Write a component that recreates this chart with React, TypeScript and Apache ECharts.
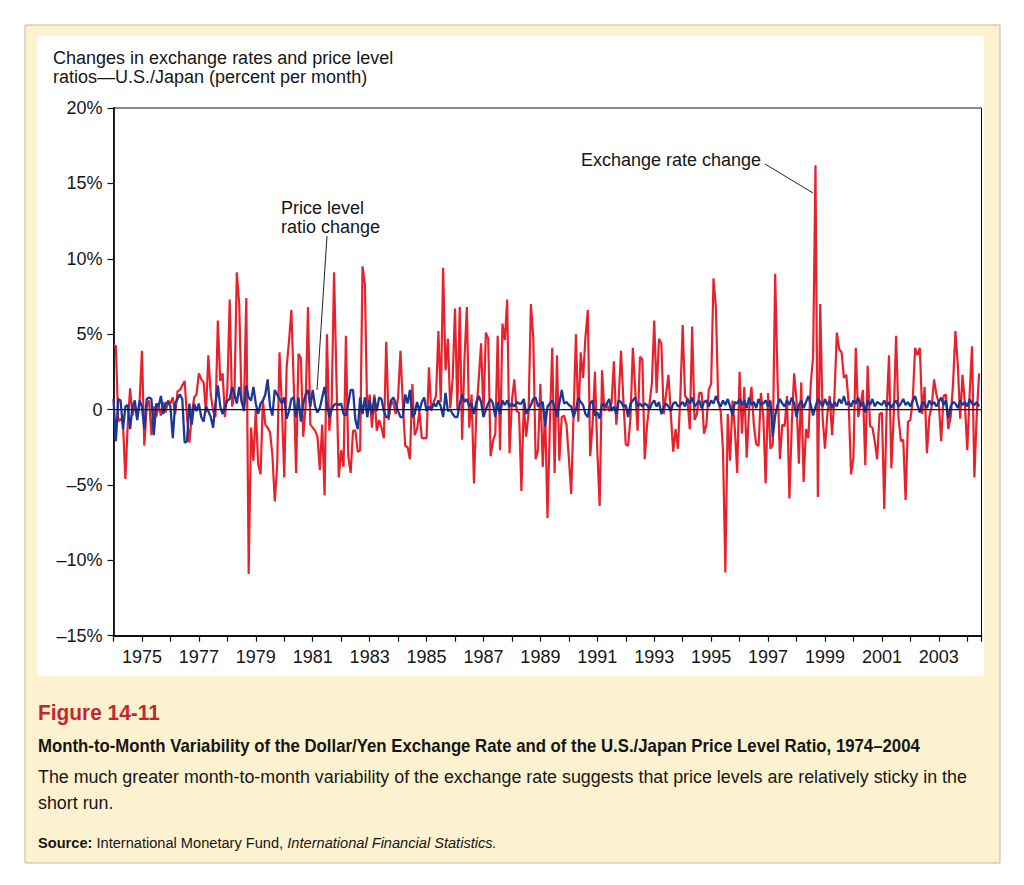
import React, { useEffect, useRef } from "react";
import * as echarts from "echarts";

// Monthly data, January 1974 – June 2004 (percent per month)
const START_YEAR = 1974;

const exchangeRateChange: number[] = [
  // 1974
  4.3, 4.2, -0.8, -0.6, -0.9, -4.6, -1.0, 1.4, -0.4, 0.3, -0.6, 0.5,
  // 1975
  3.9, -2.4, 0.2, 0.6, -1.7, 0.2, -0.5, 0.3, -0.4, 0.5, -0.2, 0.6,
  // 1976
  0.4, 0.8, -0.3, 1.2, 1.3, 1.6, 1.9, -0.5, -2.2, -0.4, 0.8, 1.0,
  // 1977
  2.4, 2.0, 1.8, -0.2, 3.6, 1.0, -0.1, -0.5, 5.9, 1.9, 2.4, -0.5,
  // 1978
  1.3, 7.3, 0.2, 1.0, 9.1, 7.0, 0.5, 0.2, 7.4, -10.9, -1.2, -3.4,
  // 1979
  0.0, -3.6, -4.3, 0.6, -1.0, -1.2, -1.5, -3.0, -6.1, -3.8, 3.8, 0.2,
  // 1980
  -4.5, 2.8, 4.5, 6.6, 1.7, -4.2, 3.7, 3.4, -1.8, 0.2, 6.8, -1.0,
  // 1981
  -1.2, -1.4, -1.8, -4.0, -1.0, -5.7, 5.0, -1.4, 0.4, 9.1, 2.1, -4.5,
  // 1982
  -2.7, -3.8, 4.9, -3.1, -4.2, -1.4, -1.4, -2.8, -2.7, 9.5, 8.3, -0.5,
  // 1983
  1.0, -1.2, 1.0, -1.4, -0.7, -1.2, -1.9, 4.5, -0.7, 0.6, 0.4, -0.3,
  // 1984
  0.8, 3.9, 0.4, -2.4, -2.5, -3.3, 1.7, -1.7, -1.3, -0.1, -1.9, -1.9,
  // 1985
  -1.9, 2.8, -0.1, 0.5, 0.9, 5.2, 0.5, 9.4, 2.6, 4.7, 0.1, 2.0,
  // 1986
  6.7, 0.0, 6.8, -2.0, 3.4, 6.8, -1.2, 1.0, -4.9, -0.2, 2.0, 4.4,
  // 1987
  -0.4, 5.1, 4.7, -3.1, -2.1, -1.6, 4.9, -2.7, 5.7, 4.6, 7.3, -2.9,
  // 1988
  0.6, 2.0, -0.1, -0.2, -5.4, 0.4, -1.8, -0.3, 7.0, 4.8, -3.3, -2.7,
  // 1989
  1.7, -3.8, -0.1, -7.2, -1.0, 4.1, -4.2, 3.6, -3.4, -0.5, -0.4, -1.0,
  // 1990
  -3.2, -5.6, -0.3, 5.0, -0.8, 3.8, 2.1, 4.8, 6.6, -3.1, -1.0, 2.5,
  // 1991
  -2.7, -6.4, 2.6, -0.1, 0.4, -0.1, 0.4, 3.2, -1.0, 0.7, 3.9, 0.6,
  // 1992
  -2.3, -2.4, -0.5, 4.1, 1.3, -1.4, 3.5, 3.3, -3.3, -1.0, 0.4, 1.7,
  // 1993
  5.9, 1.1, 4.7, 4.4, -0.3, 1.0, 2.3, -0.3, -2.8, -1.3, -2.6, 0.8,
  // 1994
  5.6, 0.9, 0.7, -1.3, 5.5, -0.7, -0.3, 1.1, 1.1, -1.6, -1.0, 1.3,
  // 1995
  1.7, 8.7, 6.8, 0.5, -0.1, -2.7, -10.8, -0.3, -3.4, 0.6, -1.3, -4.2,
  // 1996
  2.5, -1.6, 1.5, -3.2, 0.0, 1.5, -1.0, -2.3, -2.4, 1.1, -0.5, -4.9,
  // 1997
  1.1, -2.6, -2.3, 9.0, 2.0, -3.3, -1.0, -1.1, 0.9, -5.9, -1.0, 2.4,
  // 1998
  0.6, -3.6, 1.8, -4.8, -1.3, -1.9, 1.7, 3.5, 16.2, -5.8, 7.0, -0.5,
  // 1999
  -2.6, -0.3, 0.9, -1.7, 0.9, 5.1, 4.0, 3.8, 2.1, 2.3, 0.4, -4.3,
  // 2000
  -3.2, 4.1, -0.5, 0.3, 1.3, -3.7, 2.9, -1.1, -1.2, -2.1, -3.3, -0.3,
  // 2001
  -0.2, -6.6, -0.1, 3.6, -3.9, -0.3, 4.9, -0.5, -2.1, -2.0, -6.0, -0.8,
  // 2002
  -0.7, 0.6, 4.1, 3.6, 4.1, -0.3, 1.5, -2.9, -0.5, 0.2, 2.0, 1.0,
  // 2003
  0.4, -2.1, 0.9, 1.0, -1.3, -0.5, 1.7, 5.2, 3.0, -0.6, 2.3, 0.4,
  // 2004
  -2.7, 1.0, 4.2, -4.5, -0.3, 2.4,
];

const priceLevelRatioChange: number[] = [
  // 1974
  0.7, -2.1, 0.7, 0.6, -1.3, 0.2, 0.3, -1.3, 0.2, 0.6, -0.7, 0.6,
  // 1975
  0.2, -1.3, 0.7, 0.8, 0.7, -1.7, 0.4, 0.2, 0.9, -0.3, 0.4, 0.5,
  // 1976
  0.2, -1.9, 0.4, 0.7, 1.0, 0.7, -2.2, -2.1, 0.4, -1.0, 0.4, -0.1,
  // 1977
  0.4, -0.5, -0.8, 0.2, -0.1, -0.5, -1.2, 0.4, 1.6, 0.2, -0.3, 0.2,
  // 1978
  0.6, 0.7, 1.5, 1.0, 0.4, 1.5, 0.6, -0.1, 1.6, 0.8, 0.6, 1.5,
  // 1979
  0.4, -0.3, 0.4, 0.6, 1.0, 2.0, 0.2, -0.4, 1.3, 1.0, 0.7, 0.4,
  // 1980
  0.8, -0.6, -0.1, 0.7, 0.8, -0.5, 0.8, -0.8, 0.4, 1.0, 1.3, 0.2,
  // 1981
  1.3, 0.2, -0.2, 0.1, 0.8, 1.5, 0.4, -0.5, 0.0, 0.3, 0.4, 0.3,
  // 1982
  0.4, -0.3, -0.4, 0.4, 1.3, 1.3, -0.7, -1.3, 0.8, -0.3, 0.8, -0.5,
  // 1983
  0.6, -0.3, 0.8, -0.1, 0.8, 0.7, -0.1, -0.5, -0.5, 0.6, 0.8, 0.4,
  // 1984
  -0.1, -0.5, -0.5, 1.0, 0.4, 1.3, -0.5, -0.3, 0.5, -0.1, 0.5, 0.8,
  // 1985
  -0.1, 0.2, 0.0, 0.4, 0.2, 0.6, 0.2, -0.5, 1.1, -0.1, 0.0, -0.3,
  // 1986
  -0.5, -0.5, 0.4, 1.0, 0.5, 0.7, 0.2, 0.4, -0.3, 0.5, 0.9, 0.5,
  // 1987
  -0.5, 0.0, 0.4, 0.7, 0.4, -0.5, 0.5, -0.3, 0.6, 0.3, 0.6, 0.2,
  // 1988
  0.4, 0.2, 0.5, 0.4, 0.4, 0.7, -0.3, 0.0, 0.3, 0.7, 0.8, 0.2,
  // 1989
  0.4, 0.5, -1.1, 0.2, 0.4, 0.6, 0.2, -0.5, 0.4, 1.3, 0.4, 0.5,
  // 1990
  0.3, 0.2, -0.5, 0.0, 0.8, 0.5, 0.3, -0.3, -0.5, 0.4, 0.6, -0.4,
  // 1991
  -0.2, -0.6, 0.4, 0.2, 0.4, 0.7, -0.1, 0.2, -0.3, 0.6, 0.5, 0.2,
  // 1992
  0.3, -0.5, 0.4, 0.6, 0.8, 0.2, 0.4, 0.2, 0.4, 0.3, 0.0, 0.4,
  // 1993
  0.6, 0.2, 0.5, -0.3, 0.2, 0.4, 0.2, -0.1, 0.4, 0.5, 0.2, 0.3,
  // 1994
  0.5, 0.2, 0.7, 0.4, 0.8, 0.2, 0.4, 0.6, 0.1, 0.5, 0.6, 0.2,
  // 1995
  0.6, 0.4, 0.9, 0.5, 0.2, 0.6, 0.3, 0.7, 0.2, -0.4, 0.5, 0.4,
  // 1996
  0.7, 0.3, 0.6, 0.1, 0.8, 0.3, 0.5, 0.1, 0.7, 0.3, 0.4, 0.6,
  // 1997
  0.2, 0.6, -1.8, -0.4, 0.3, 0.7, 0.4, 0.2, 0.6, 0.3, 0.8, 0.4,
  // 1998
  -0.5, 0.3, 0.6, 0.1, 0.5, 0.9, 0.3, -0.4, 0.2, 0.7, 0.5, 0.2,
  // 1999
  0.7, 0.3, 0.6, 0.1, 0.5, 0.2, 0.7, 0.4, 0.9, 0.3, 0.5, 0.2,
  // 2000
  0.6, 0.4, 0.8, 0.2, 0.5, -0.2, 0.6, 0.3, 0.7, 0.2, 0.5, 0.4,
  // 2001
  0.3, 0.6, 0.2, 0.5, 0.1, 0.4, 0.6, 0.2, 0.4, 0.7, 0.3, 0.5,
  // 2002
  0.2, 0.6, 0.9, 0.3, -0.2, 0.5, 0.4, 0.1, 0.6, 0.3, 0.5, 0.2,
  // 2003
  0.5, 0.8, 0.3, 0.6, -0.6, 0.2, 0.5, 0.4, 0.1, 0.6, 0.3, 0.5,
  // 2004
  0.2, 0.7, 0.4, 0.3, 0.5, 0.2,
];

const X_MIN = 1974;
const X_MAX = 2004.5;
const Y_MIN = -15;
const Y_MAX = 20;
const Y_STEP = 5;

const axisTitleLines = [
  "Changes in exchange rates and price level",
  "ratios\u2014U.S./Japan (percent per month)",
];
const exchangeLabel = "Exchange rate change";
const priceLabelLines = ["Price level", "ratio change"];

const figureNumber = "Figure 14-11";
const figureTitle =
  "Month-to-Month Variability of the Dollar/Yen Exchange Rate and of the U.S./Japan Price Level Ratio, 1974\u20132004";
const figureTextLine1 =
  "The much greater month-to-month variability of the exchange rate suggests that price levels are relatively sticky in the";
const figureTextLine2 = "short run.";
const sourceBold = "Source:";
const sourcePlain = " International Monetary Fund, ";
const sourceItalic = "International Financial Statistics.";

const toPoints = (vals: number[]) =>
  vals.map((v, i) => [START_YEAR + i / 12, v]);

let measureCtx: CanvasRenderingContext2D | null = null;
function measure(font: string, text: string): number {
  if (!measureCtx) {
    measureCtx = document.createElement("canvas").getContext("2d");
  }
  if (!measureCtx) return text.length * 8;
  measureCtx.font = font;
  return measureCtx.measureText(text).width;
}
function hasFont(name: string): boolean {
  const probe = "abcdefghijklmnopqrstuvwxyzABCDEFGHIJ 0123456789";
  return (
    measure(`20px "${name}", monospace`, probe) !== measure("20px monospace", probe)
  );
}

export default function App() {
  const ref = useRef<HTMLDivElement>(null);

  useEffect(() => {
    if (!ref.current) return;
    const chart = echarts.init(ref.current, undefined, { renderer: "svg" });

    const plotFont = "'Liberation Sans', Arial, Helvetica, sans-serif";
    const condName = hasFont("Liberation Sans Narrow")
      ? "Liberation Sans Narrow"
      : "Liberation Sans";
    const condFont = `'${condName}', 'Liberation Sans', sans-serif`;

    const fitScale = (font: string, text: string, target: number) =>
      target / measure(font, text);

    const figSize = 22;
    const titleSize = 18.5;
    const bodySize = 18.5;
    const srcSize = 15;

    const figScale = fitScale(`bold ${figSize}px ${condFont}`, figureNumber, 122);
    const titleScale = fitScale(`bold ${titleSize}px ${condFont}`, figureTitle, 882);
    const bodyScale = fitScale(`${bodySize}px ${condFont}`, figureTextLine1, 930);
    const srcW =
      measure(`bold ${srcSize}px ${condFont}`, sourceBold) +
      measure(`${srcSize}px ${condFont}`, sourcePlain) +
      measure(`italic ${srcSize}px ${condFont}`, sourceItalic);
    const srcScale = 459 / srcW;

    const textColor = "#161616";

    const option: any = {
      animation: false,
      backgroundColor: "#ffffff",
      grid: {
        left: 113.5,
        top: 108,
        width: 868,
        height: 527.7,
        show: true,
        borderColor: "#111",
        borderWidth: 1,
        backgroundColor: "transparent",
        z: 3,
      },
      xAxis: {
        type: "value",
        min: X_MIN,
        max: X_MAX,
        interval: 1,
        axisLine: { show: true, onZero: false, lineStyle: { color: "#111", width: 1.8 } },
        axisTick: { show: true, inside: false, length: 6, lineStyle: { color: "#111", width: 1.2 } },
        axisLabel: {
          show: true,
          margin: 12,
          fontSize: 18,
          fontFamily: plotFont,
          color: textColor,
          formatter: (v: number) =>
            Number.isInteger(v) && Math.abs(v % 2) === 1 ? String(v) : "",
        },
        splitLine: { show: false },
      },
      yAxis: {
        type: "value",
        min: Y_MIN,
        max: Y_MAX,
        interval: Y_STEP,
        axisLine: { show: true, onZero: false, lineStyle: { color: "#111", width: 1.8 } },
        axisTick: { show: true, inside: false, length: 6, lineStyle: { color: "#111", width: 1.2 } },
        axisLabel: {
          show: true,
          margin: 11,
          fontSize: 18,
          fontFamily: plotFont,
          color: textColor,
          formatter: (v: number) =>
            v === 0 ? "0" : v < 0 ? `\u2013${Math.abs(v)}%` : `${v}%`,
        },
        splitLine: { show: false },
      },
      series: [
        {
          name: "Exchange rate change",
          type: "line",
          data: toPoints(exchangeRateChange),
          showSymbol: false,
          symbol: "none",
          lineStyle: { color: "#e8222c", width: 2.2 },
          z: 2,
        },
        {
          name: "Price level ratio change",
          type: "line",
          data: toPoints(priceLevelRatioChange),
          showSymbol: false,
          symbol: "none",
          lineStyle: { color: "#1c3896", width: 2.3 },
          z: 3,
        },
        {
          name: "zero",
          type: "line",
          data: [
            [X_MIN, 0],
            [X_MAX, 0],
          ],
          showSymbol: false,
          symbol: "none",
          lineStyle: { color: "#111", width: 1.2 },
          z: 4,
          silent: true,
        },
      ],
      graphic: [
        {
          type: "rect",
          z: -10,
          shape: { x: 25, y: 25, width: 975, height: 838 },
          style: { fill: "#fcf2cf", stroke: "#c2b994", lineWidth: 1 },
        },
        {
          type: "rect",
          z: -9,
          shape: { x: 37, y: 36, width: 947, height: 640 },
          style: { fill: "#ffffff" },
        },
        {
          type: "text",
          x: 53,
          y: 48,
          style: {
            text: axisTitleLines.join("\n"),
            font: `18px ${plotFont}`,
            fill: textColor,
            lineHeight: 19,
            verticalAlign: "top",
          },
        },
        {
          type: "text",
          x: 581,
          y: 160,
          style: {
            text: exchangeLabel,
            font: `18px ${plotFont}`,
            fill: textColor,
            verticalAlign: "middle",
          },
        },
        {
          type: "line",
          shape: { x1: 765, y1: 164, x2: 813, y2: 193 },
          style: { stroke: "#222", lineWidth: 1 },
        },
        {
          type: "text",
          x: 281,
          y: 198,
          style: {
            text: priceLabelLines.join("\n"),
            font: `18px ${plotFont}`,
            fill: textColor,
            lineHeight: 19,
            verticalAlign: "top",
          },
        },
        {
          type: "line",
          shape: { x1: 327, y1: 236, x2: 317, y2: 390 },
          style: { stroke: "#222", lineWidth: 1 },
        },
        {
          type: "text",
          x: 38,
          y: 713,
          scaleX: figScale,
          style: {
            text: figureNumber,
            font: `bold ${figSize}px ${condFont}`,
            fill: "#c3262e",
            verticalAlign: "middle",
          },
        },
        {
          type: "text",
          x: 38,
          y: 746,
          scaleX: titleScale,
          style: {
            text: figureTitle,
            font: `bold ${titleSize}px ${condFont}`,
            fill: "#161616",
            verticalAlign: "middle",
          },
        },
        {
          type: "text",
          x: 38,
          y: 777,
          scaleX: bodyScale,
          style: {
            text: figureTextLine1,
            font: `${bodySize}px ${condFont}`,
            fill: "#161616",
            verticalAlign: "middle",
          },
        },
        {
          type: "text",
          x: 38,
          y: 803,
          scaleX: bodyScale,
          style: {
            text: figureTextLine2,
            font: `${bodySize}px ${condFont}`,
            fill: "#161616",
            verticalAlign: "middle",
          },
        },
        {
          type: "text",
          x: 38,
          y: 843,
          scaleX: srcScale,
          style: {
            text: `{b|${sourceBold}}{r|${sourcePlain}}{i|${sourceItalic}}`,
            verticalAlign: "middle",
            rich: {
              b: { fontFamily: condFont, fontSize: srcSize, fontWeight: "bold", fill: "#161616" },
              r: { fontFamily: condFont, fontSize: srcSize, fill: "#161616" },
              i: { fontFamily: condFont, fontSize: srcSize, fontStyle: "italic", fill: "#161616" },
            },
          },
        },
      ],
    };

    chart.setOption(option);
    return () => {
      chart.dispose();
    };
  }, []);

  return (
    <div
      ref={ref}
      style={{ position: "absolute", left: 0, top: 0, width: 1024, height: 885 }}
    />
  );
}
